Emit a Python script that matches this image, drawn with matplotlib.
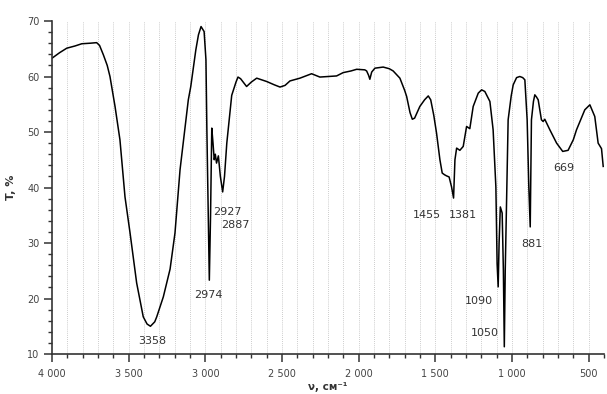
import numpy as np
import matplotlib.pyplot as plt
from matplotlib.ticker import MultipleLocator, FuncFormatter

# IR spectrum (wavenumber in cm-1, transmittance in %)
wavenumber = [4000, 3950, 3904, 3850, 3806, 3750, 3709, 3690, 3665, 3640,
              3622, 3589, 3557, 3524, 3491, 3448, 3405, 3380, 3358, 3330,
              3317, 3274, 3230, 3198, 3165, 3111, 3095, 3062, 3045, 3028,
              3008, 2996, 2990, 2983, 2978, 2974, 2966, 2958, 2950, 2942,
              2935, 2927, 2915, 2902, 2887, 2875, 2860, 2840, 2828, 2800,
              2787, 2770, 2731, 2700, 2665, 2600, 2550, 2513, 2480, 2448,
              2383, 2307, 2253, 2200, 2144, 2101, 2050, 2013, 1960, 1948,
              1935, 1927, 1915, 1894, 1840, 1800, 1775, 1731, 1700, 1687,
              1665, 1650, 1635, 1601, 1570, 1546, 1530, 1510, 1492, 1470,
              1455, 1440, 1427, 1410, 1394, 1381, 1372, 1361, 1340, 1318,
              1296, 1275, 1253, 1220, 1198, 1177, 1144, 1123, 1105, 1097,
              1090, 1084, 1076, 1064, 1056, 1050, 1044, 1036, 1025, 1005,
              992, 970, 949, 930, 916, 901, 890, 881, 873, 860,
              851, 840, 829, 808, 797, 786, 753, 709, 669, 634,
              600, 579, 525, 492, 460, 438, 416, 405]
transmittance = [63.3, 64.3, 65.1, 65.5, 65.9, 66.0, 66.1, 65.6, 63.9, 62.0,
                 60.0, 54.6, 48.6, 38.3, 31.8, 22.8, 16.7, 15.4, 15.0, 15.8,
                 16.7, 20.3, 25.3, 31.8, 43.2, 55.8, 58.2, 64.8, 67.5, 69.0,
                 68.1, 63.0, 50.4, 38.0, 28.0, 23.3, 35.0, 50.7, 48.0, 45.0,
                 46.0, 44.4, 45.7, 42.0, 39.2, 42.0, 48.0, 53.4, 56.6, 59.0,
                 59.9, 59.6, 58.2, 59.0, 59.7, 59.1, 58.5, 58.1, 58.4, 59.2,
                 59.7, 60.5, 59.9, 60.0, 60.1, 60.7, 61.0, 61.3, 61.2, 61.0,
                 60.2, 59.5, 60.8, 61.5, 61.7, 61.4, 61.0, 59.7, 57.5, 56.4,
                 53.5, 52.3, 52.5, 54.6, 55.8, 56.5, 55.8, 53.0, 49.8, 45.0,
                 42.6, 42.3, 42.1, 41.9, 40.1, 38.1, 45.0, 47.1, 46.7, 47.4,
                 51.0, 50.6, 54.6, 57.0, 57.6, 57.3, 55.5, 50.4, 40.1, 26.3,
                 22.1, 30.0, 36.5, 35.4, 25.0, 11.3, 25.0, 36.5, 52.2, 56.5,
                 58.5, 59.8, 60.0, 59.8, 59.4, 52.2, 40.0, 32.9, 52.2, 55.5,
                 56.7, 56.3, 55.8, 52.2, 51.9, 52.3, 50.4, 48.0, 46.5, 46.7,
                 48.6, 50.4, 54.0, 54.9, 52.8, 48.0, 47.0, 43.8]

# peak labels and where their text sits
peak_labels = ['3358', '2974', '2927', '2887', '1455', '1381', '1090', '1050', '881', '669']
label_x = [3348, 2983, 2857, 2802, 1552, 1320, 1218, 1175, 870, 664]
label_y = [12.3, 20.6, 35.6, 33.2, 35.0, 35.0, 19.5, 13.8, 29.8, 43.5]

fig = plt.figure(figsize=(6.07, 3.94), dpi=100)
ax = fig.add_axes([0.0857, 0.1015, 0.9093, 0.8452])

ax.plot(wavenumber, transmittance, color='black', linewidth=1.1)

for txt, x, y in zip(peak_labels, label_x, label_y):
    ax.text(x, y, txt, ha='center', va='center', fontsize=8, color='#333333')

# vertical dotted grid every 100 cm-1
for gx in range(3900, 499, -100):
    ax.axvline(gx, color='#bbbbbb', linewidth=0.6, linestyle=(0, (1, 1.5)), zorder=0)

ax.set_xlim(4000, 400)
ax.set_ylim(10, 70)
ax.spines['top'].set_visible(False)
ax.spines['right'].set_visible(False)
for side in ['left', 'bottom']:
    ax.spines[side].set_color('#333333')
    ax.spines[side].set_linewidth(1.2)

ax.xaxis.set_major_locator(MultipleLocator(500))
ax.xaxis.set_minor_locator(MultipleLocator(100))
ax.yaxis.set_major_locator(MultipleLocator(10))
ax.yaxis.set_minor_locator(MultipleLocator(2))
ax.xaxis.set_major_formatter(FuncFormatter(lambda v, p: f'{int(v):,}'.replace(',', ' ')))
ax.tick_params(which='major', direction='out', length=5.5, width=1.1, color='#333333',
               labelsize=7, labelcolor='#444444')
ax.tick_params(which='minor', direction='out', length=3, width=1.0, color='#333333')
ax.tick_params(axis='x', which='major', pad=5)

ax.set_xlabel('ν, см⁻¹', fontsize=7.5, fontweight='bold', color='#333333')
ax.set_ylabel('T, %', fontsize=8, fontweight='bold', color='#333333')
ax.xaxis.set_label_coords(0.5, -0.085)
ax.yaxis.set_label_coords(-0.065, 0.5)

fig.savefig('out.png', dpi=100)
